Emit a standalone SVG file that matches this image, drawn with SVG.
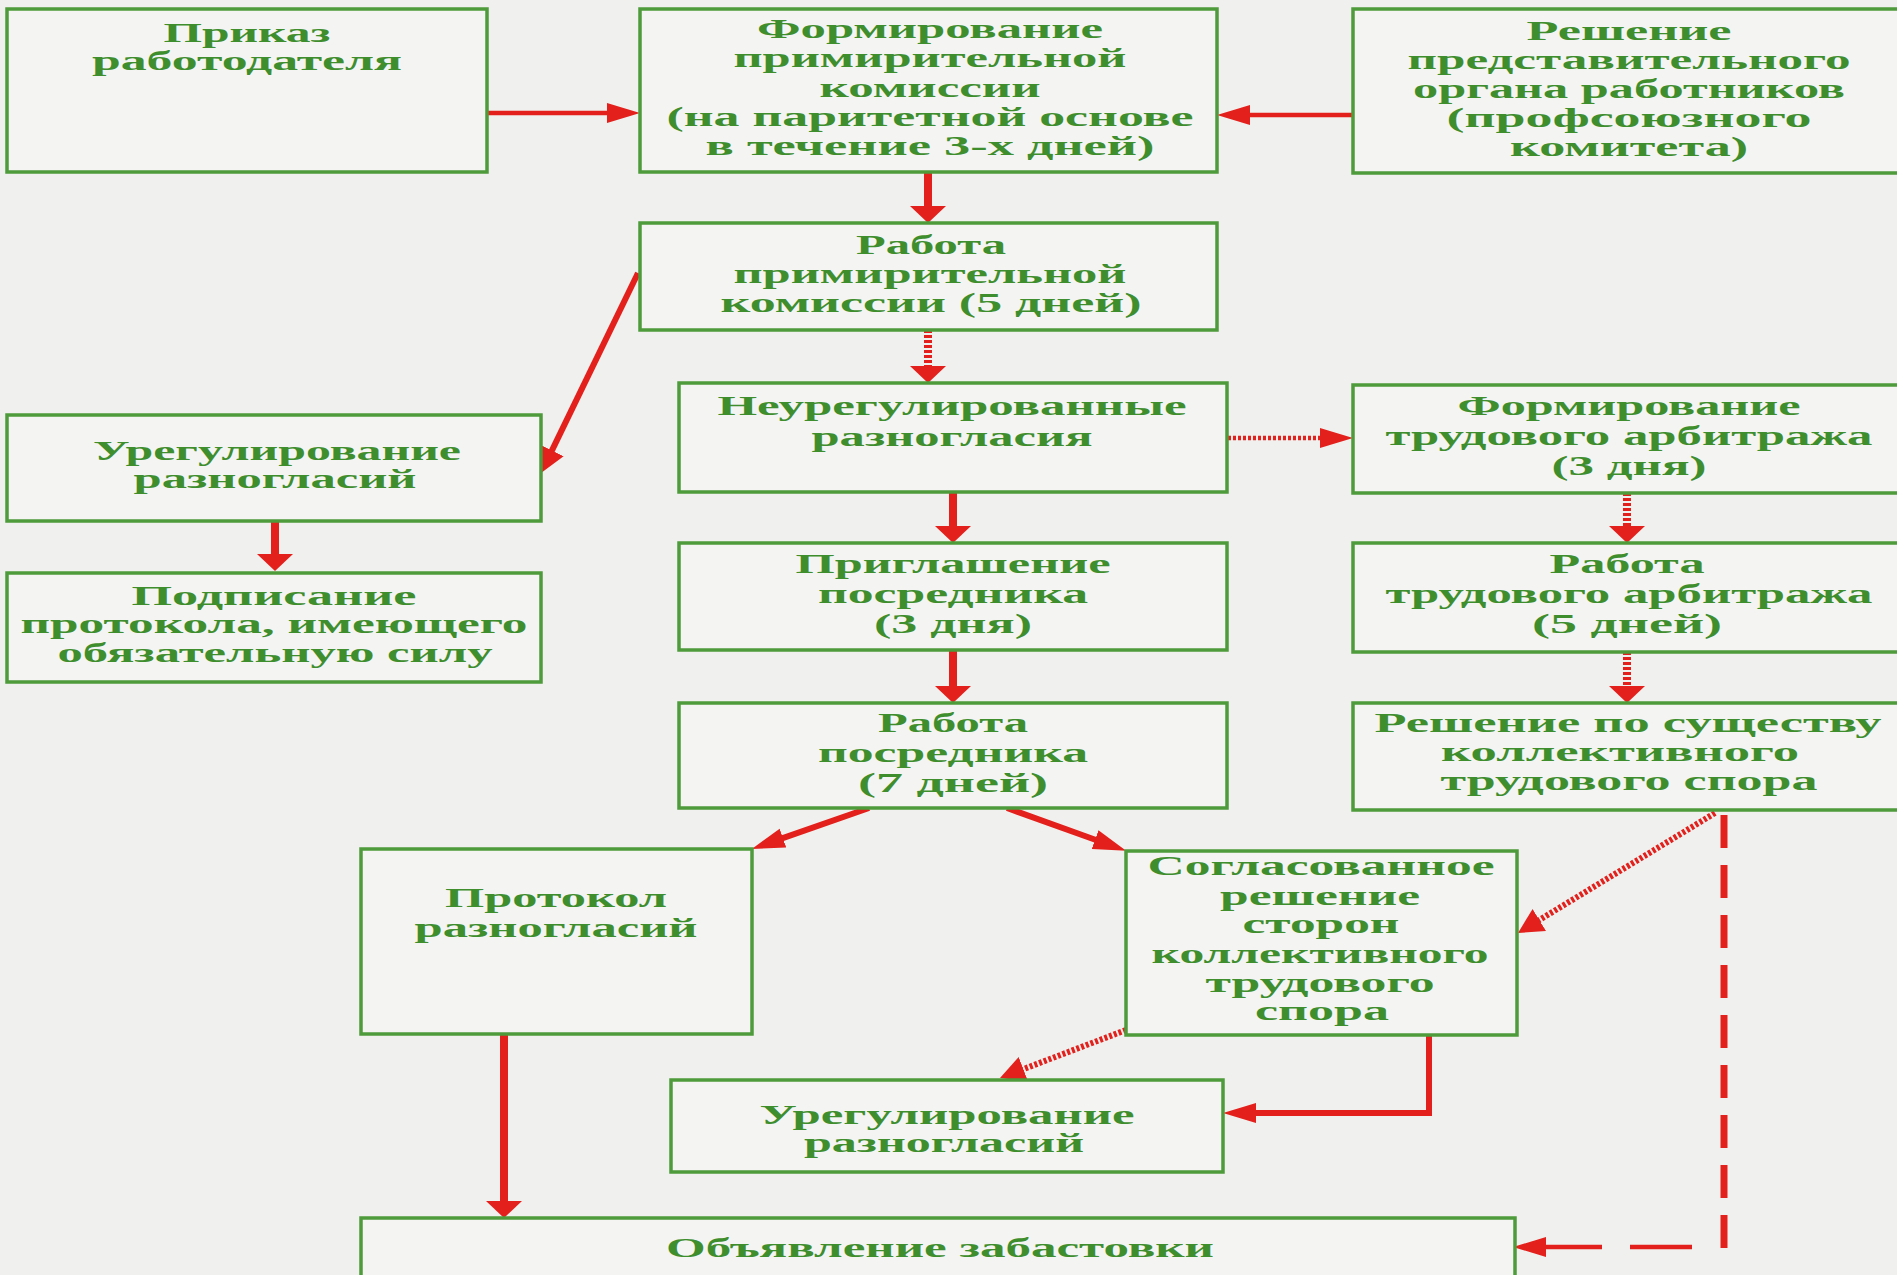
<svg xmlns="http://www.w3.org/2000/svg" width="1897" height="1275" viewBox="0 0 1897 1275">
<style>
.bx{fill:#f4f4f3;stroke:#4e9b3b;stroke-width:3.5}
.t{font-family:"Liberation Serif","Times New Roman",serif;font-weight:bold;font-size:28px;fill:#3f8e2e;text-anchor:middle}
.ln{fill:none;stroke:#e3201b}
.v{stroke-width:8}
.h{stroke-width:4.5}
.d{stroke-width:6}
.dot{stroke-dasharray:3 2}
</style>
<defs>
<marker id="mH" markerUnits="userSpaceOnUse" markerWidth="34" markerHeight="22" viewBox="0 0 34 22" refX="1" refY="11" orient="auto"><path d="M0,1 L33,11 L0,21 z" fill="#e3201b"/></marker>
<marker id="mV" markerUnits="userSpaceOnUse" markerWidth="18" markerHeight="38" viewBox="0 0 18 38" refX="1" refY="19" orient="auto"><path d="M0,1 L17,19 L0,37 z" fill="#e3201b"/></marker>
<marker id="mD" markerUnits="userSpaceOnUse" markerWidth="26" markerHeight="28" viewBox="0 0 26 28" refX="1" refY="14" orient="auto"><path d="M0,1 L25,14 L0,27 z" fill="#e3201b"/></marker>
</defs>
<rect x="0" y="0" width="1897" height="1275" fill="#f0f0ef"/>

<g id="connectors">
<path class="ln h" d="M488,113 H608" marker-end="url(#mH)"/>
<path class="ln h" d="M1353,115 H1249" marker-end="url(#mH)"/>
<path class="ln v" d="M928,172 V207" marker-end="url(#mV)"/>
<path class="ln v dot" d="M928,330 V367" marker-end="url(#mV)"/>
<path class="ln v" d="M953,492 V527" marker-end="url(#mV)"/>
<path class="ln v" d="M953,650 V687" marker-end="url(#mV)"/>
<path class="ln h dot" d="M1228,438 H1321" marker-end="url(#mH)"/>
<path class="ln v dot" d="M1627,493 V527" marker-end="url(#mV)"/>
<path class="ln v dot" d="M1627,652 V687" marker-end="url(#mV)"/>
<path class="ln d" d="M638,273 L551.5,451.4" marker-end="url(#mD)"/>
<path class="ln v" d="M275,521 V555" marker-end="url(#mV)"/>
<path class="ln d" d="M869,808 L782,838.4" marker-end="url(#mH)"/>
<path class="ln d" d="M1007,808 L1096,840" marker-end="url(#mH)"/>
<path class="ln d dot" d="M1715,813 L1538.5,920.5" marker-end="url(#mD)"/>
<path class="ln d dot" d="M1126,1030 L1022.4,1069.5" marker-end="url(#mD)"/>
<path class="ln" style="stroke-width:6" d="M1429,1035 V1113 H1255" marker-end="url(#mH)"/>
<path class="ln v" d="M504,1034 V1202" marker-end="url(#mV)"/>
<path class="ln" style="stroke-width:7;stroke-dasharray:33 17" d="M1724,1248 V813"/>
<path class="ln h" d="M1692,1247 H1630 M1602,1247 H1545" marker-end="url(#mH)"/>
</g>

<g id="n-prikaz">
<rect class="bx" x="7" y="9" width="480" height="163"/>
<text class="t" x="247" y="42" textLength="167" lengthAdjust="spacingAndGlyphs">Приказ</text>
<text class="t" x="247" y="70" textLength="310" lengthAdjust="spacingAndGlyphs">работодателя</text>
</g>

<g id="n-formirovanie">
<rect class="bx" x="640" y="9" width="577" height="163"/>
<text class="t" x="930" y="38" textLength="346" lengthAdjust="spacingAndGlyphs">Формирование</text>
<text class="t" x="930" y="67" textLength="393" lengthAdjust="spacingAndGlyphs">примирительной</text>
<text class="t" x="930" y="97" textLength="221" lengthAdjust="spacingAndGlyphs">комиссии</text>
<text class="t" x="930" y="126" textLength="527" lengthAdjust="spacingAndGlyphs">(на паритетной основе</text>
<text class="t" x="930" y="155" textLength="449" lengthAdjust="spacingAndGlyphs">в течение 3-х дней)</text>
</g>

<g id="n-reshenie">
<rect class="bx" x="1353" y="9" width="560" height="164"/>
<text class="t" x="1629" y="40" textLength="205" lengthAdjust="spacingAndGlyphs">Решение</text>
<text class="t" x="1629" y="69" textLength="443" lengthAdjust="spacingAndGlyphs">представительного</text>
<text class="t" x="1629" y="98" textLength="432" lengthAdjust="spacingAndGlyphs">органа работников</text>
<text class="t" x="1629" y="127" textLength="365" lengthAdjust="spacingAndGlyphs">(профсоюзного</text>
<text class="t" x="1629" y="156" textLength="238" lengthAdjust="spacingAndGlyphs">комитета)</text>
</g>

<g id="n-rabota-prim">
<rect class="bx" x="640" y="223" width="577" height="107"/>
<text class="t" x="931" y="254" textLength="150" lengthAdjust="spacingAndGlyphs">Работа</text>
<text class="t" x="930" y="283" textLength="393" lengthAdjust="spacingAndGlyphs">примирительной</text>
<text class="t" x="931" y="312" textLength="421" lengthAdjust="spacingAndGlyphs">комиссии (5 дней)</text>
</g>

<g id="n-neureg">
<rect class="bx" x="679" y="383" width="548" height="109"/>
<text class="t" x="952" y="415" textLength="469" lengthAdjust="spacingAndGlyphs">Неурегулированные</text>
<text class="t" x="952" y="446" textLength="281" lengthAdjust="spacingAndGlyphs">разногласия</text>
</g>

<g id="n-priglashenie">
<rect class="bx" x="679" y="543" width="548" height="107"/>
<text class="t" x="953" y="573" textLength="315" lengthAdjust="spacingAndGlyphs">Приглашение</text>
<text class="t" x="953" y="603" textLength="270" lengthAdjust="spacingAndGlyphs">посредника</text>
<text class="t" x="953" y="633" textLength="158" lengthAdjust="spacingAndGlyphs">(3 дня)</text>
</g>

<g id="n-rabota-posr">
<rect class="bx" x="679" y="703" width="548" height="105"/>
<text class="t" x="953" y="732" textLength="150" lengthAdjust="spacingAndGlyphs">Работа</text>
<text class="t" x="953" y="762" textLength="270" lengthAdjust="spacingAndGlyphs">посредника</text>
<text class="t" x="953" y="792" textLength="190" lengthAdjust="spacingAndGlyphs">(7 дней)</text>
</g>

<g id="n-form-arb">
<rect class="bx" x="1353" y="385" width="560" height="108"/>
<text class="t" x="1629" y="415" textLength="343" lengthAdjust="spacingAndGlyphs">Формирование</text>
<text class="t" x="1629" y="445" textLength="487" lengthAdjust="spacingAndGlyphs">трудового арбитража</text>
<text class="t" x="1629" y="475" textLength="155" lengthAdjust="spacingAndGlyphs">(3 дня)</text>
</g>

<g id="n-rabota-arb">
<rect class="bx" x="1353" y="543" width="560" height="109"/>
<text class="t" x="1627" y="573" textLength="155" lengthAdjust="spacingAndGlyphs">Работа</text>
<text class="t" x="1629" y="603" textLength="487" lengthAdjust="spacingAndGlyphs">трудового арбитража</text>
<text class="t" x="1627" y="633" textLength="190" lengthAdjust="spacingAndGlyphs">(5 дней)</text>
</g>

<g id="n-reshenie-suschestvu">
<rect class="bx" x="1353" y="703" width="560" height="107"/>
<text class="t" x="1628" y="732" textLength="507" lengthAdjust="spacingAndGlyphs">Решение по существу</text>
<text class="t" x="1620" y="761" textLength="358" lengthAdjust="spacingAndGlyphs">коллективного</text>
<text class="t" x="1629" y="790" textLength="377" lengthAdjust="spacingAndGlyphs">трудового спора</text>
</g>

<g id="n-ureg-left">
<rect class="bx" x="7" y="415" width="534" height="106"/>
<text class="t" x="277" y="460" textLength="368" lengthAdjust="spacingAndGlyphs">Урегулирование</text>
<text class="t" x="275" y="488" textLength="283" lengthAdjust="spacingAndGlyphs">разногласий</text>
</g>

<g id="n-podpisanie">
<rect class="bx" x="7" y="573" width="534" height="109"/>
<text class="t" x="274" y="605" textLength="285" lengthAdjust="spacingAndGlyphs">Подписание</text>
<text class="t" x="274" y="633" textLength="507" lengthAdjust="spacingAndGlyphs">протокола, имеющего</text>
<text class="t" x="275" y="662" textLength="435" lengthAdjust="spacingAndGlyphs">обязательную силу</text>
</g>

<g id="n-protokol">
<rect class="bx" x="361" y="849" width="391" height="185"/>
<text class="t" x="556" y="907" textLength="222" lengthAdjust="spacingAndGlyphs">Протокол</text>
<text class="t" x="556" y="937" textLength="283" lengthAdjust="spacingAndGlyphs">разногласий</text>
</g>

<g id="n-soglasovannoe">
<rect class="bx" x="1126" y="851" width="391" height="184"/>
<text class="t" x="1321" y="875" textLength="347" lengthAdjust="spacingAndGlyphs">Согласованное</text>
<text class="t" x="1320" y="905" textLength="200" lengthAdjust="spacingAndGlyphs">решение</text>
<text class="t" x="1321" y="933" textLength="157" lengthAdjust="spacingAndGlyphs">сторон</text>
<text class="t" x="1320" y="963" textLength="337" lengthAdjust="spacingAndGlyphs">коллективного</text>
<text class="t" x="1320" y="992" textLength="229" lengthAdjust="spacingAndGlyphs">трудового</text>
<text class="t" x="1322" y="1020" textLength="134" lengthAdjust="spacingAndGlyphs">спора</text>
</g>

<g id="n-ureg-bottom">
<rect class="bx" x="671" y="1080" width="552" height="92"/>
<text class="t" x="947" y="1124" textLength="375" lengthAdjust="spacingAndGlyphs">Урегулирование</text>
<text class="t" x="944" y="1152" textLength="280" lengthAdjust="spacingAndGlyphs">разногласий</text>
</g>

<g id="n-zabastovka">
<rect class="bx" x="361" y="1218" width="1154" height="80"/>
<text class="t" x="940" y="1257" textLength="548" lengthAdjust="spacingAndGlyphs">Объявление забастовки</text>
</g>
</svg>
